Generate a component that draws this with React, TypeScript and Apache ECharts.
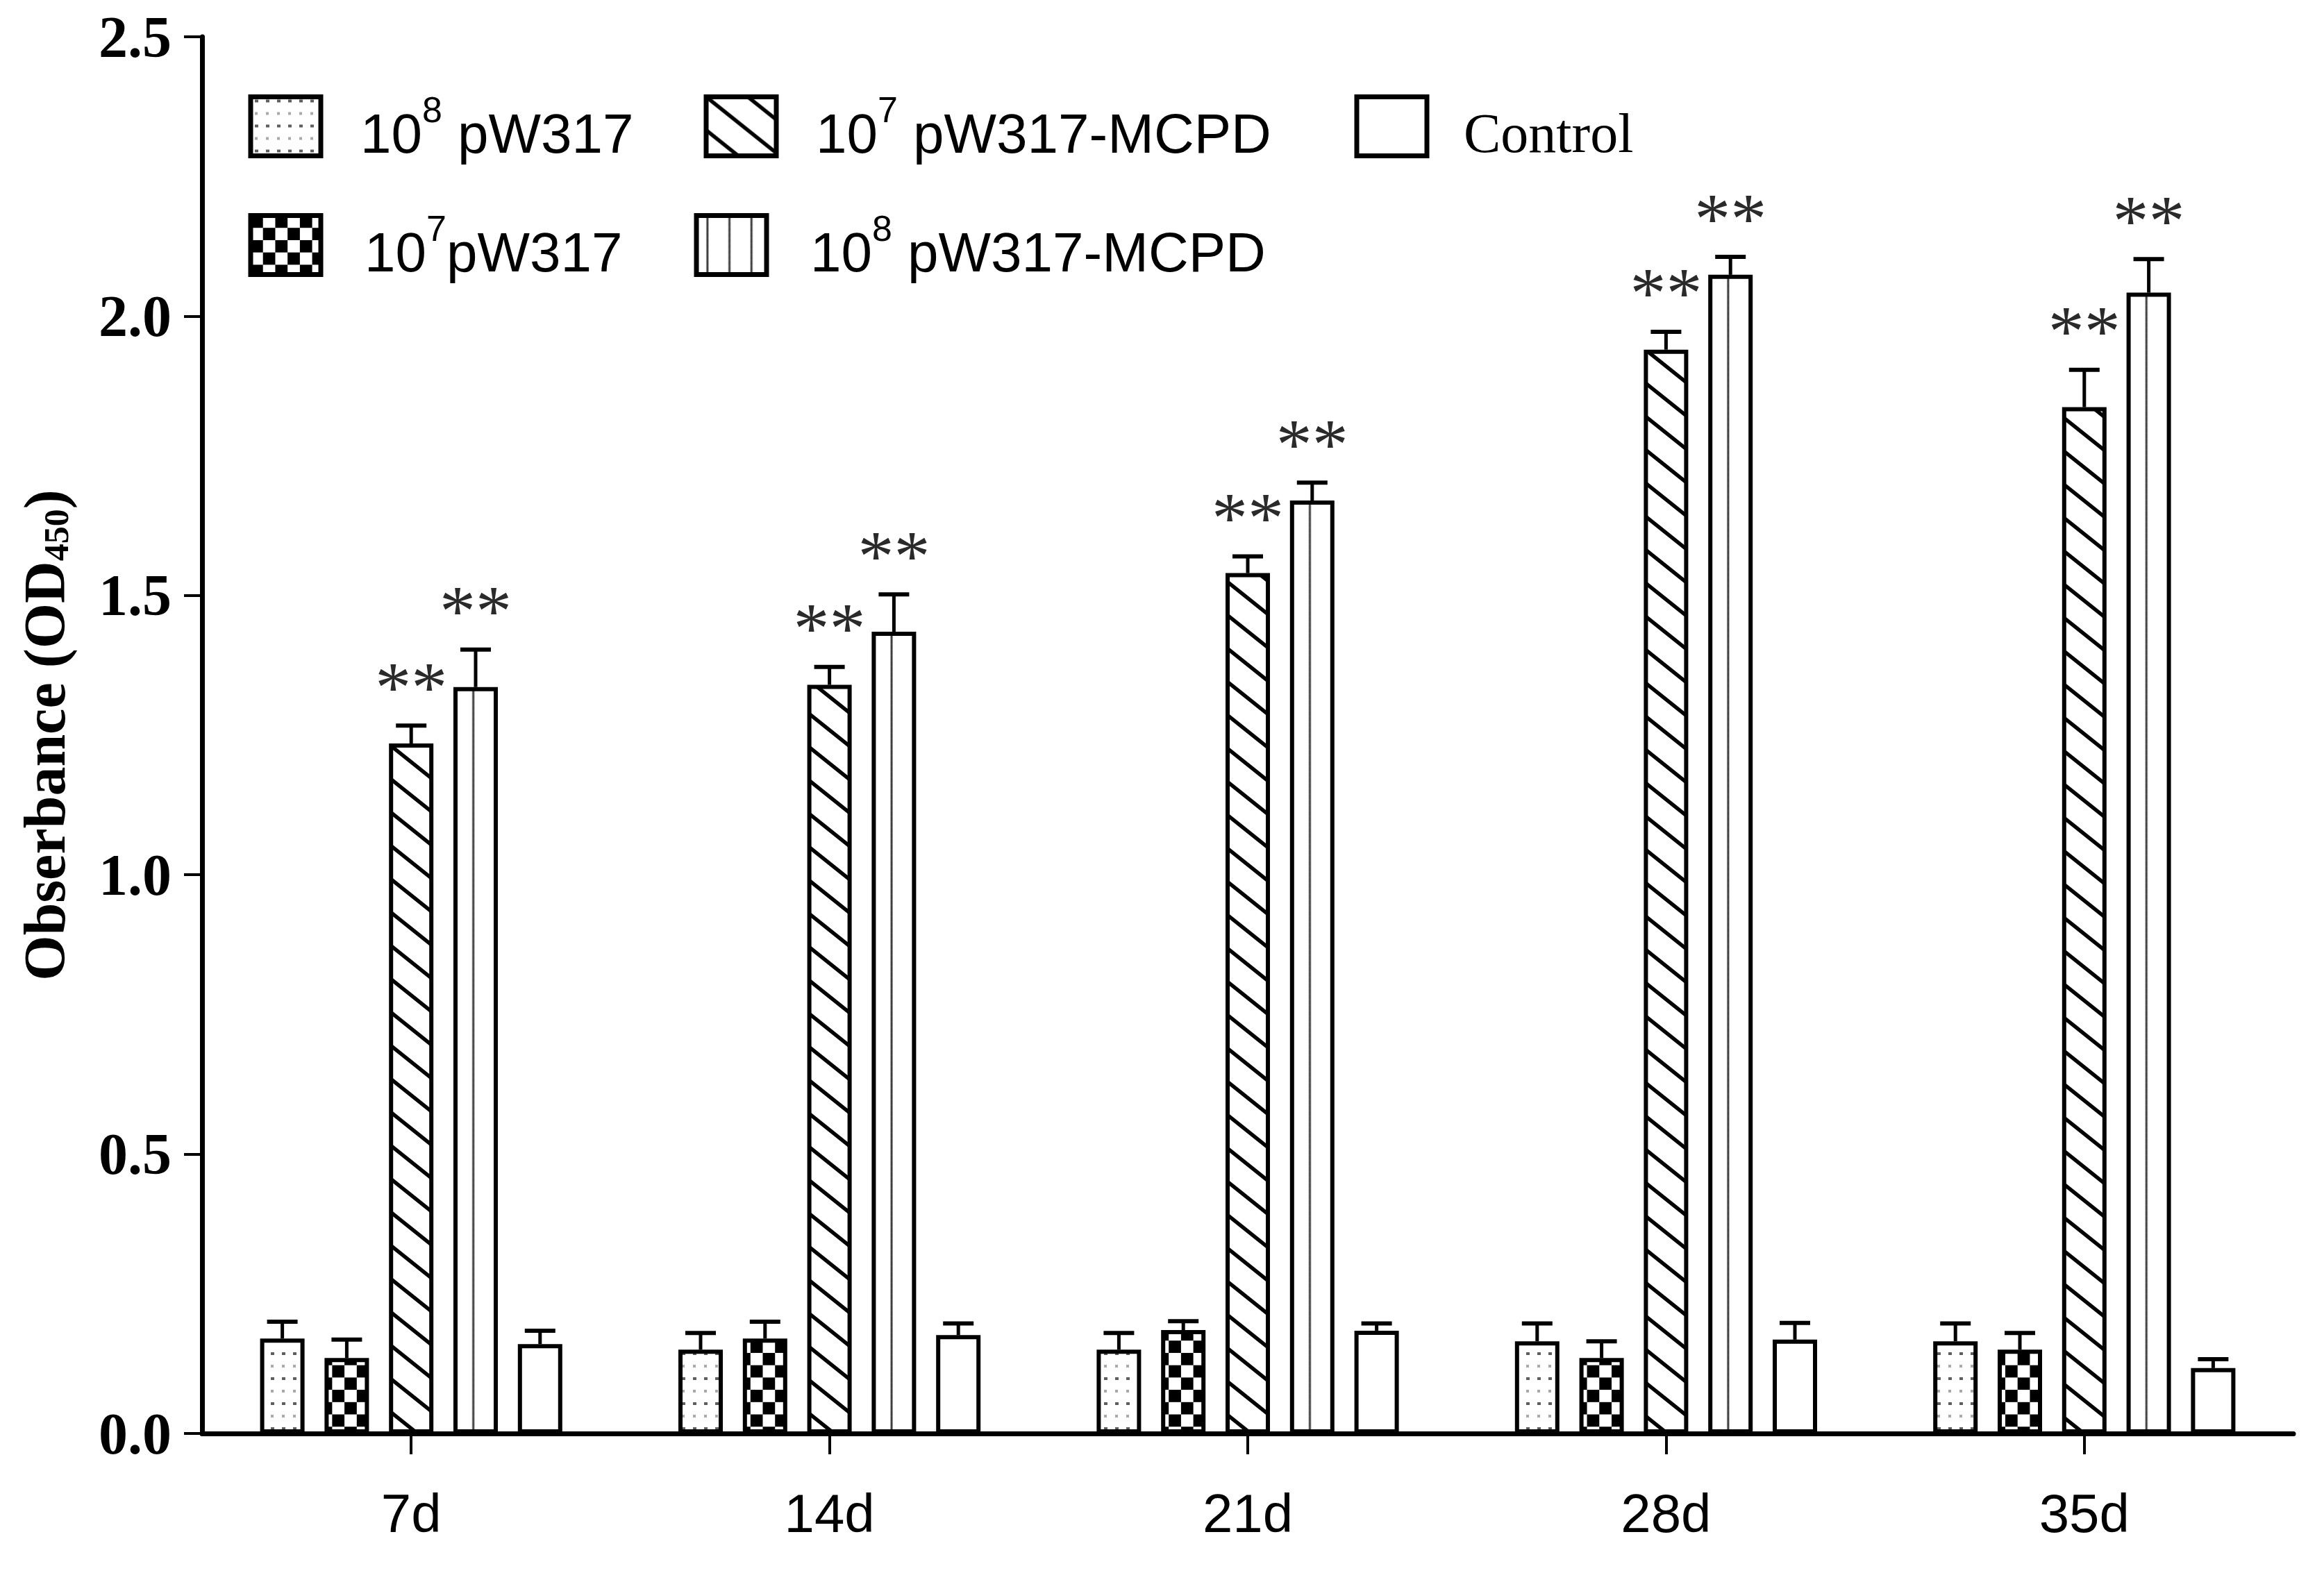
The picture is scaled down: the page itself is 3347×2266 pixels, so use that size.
import React, { useEffect, useRef } from "react";
import * as echarts from "echarts";

const categories = ["7d", "14d", "21d", "28d", "35d"];
const seriesNames = ["10^8 pW317", "10^7pW317", "10^7 pW317-MCPD", "10^8 pW317-MCPD", "Control"];

const mean108pW317 = [0.17, 0.15, 0.15, 0.165, 0.165];
const err108pW317 = [0.03, 0.03, 0.03, 0.032, 0.032];
const mean107pW317 = [0.135, 0.17, 0.185, 0.135, 0.15];
const err107pW317 = [0.033, 0.03, 0.016, 0.03, 0.03];
const mean107MCPD = [1.235, 1.34, 1.54, 1.94, 1.837];
const err107MCPD = [0.032, 0.032, 0.03, 0.032, 0.067];
const mean108MCPD = [1.336, 1.435, 1.67, 2.074, 2.042];
const err108MCPD = [0.067, 0.067, 0.032, 0.032, 0.06];
const meanControl = [0.16, 0.176, 0.184, 0.168, 0.117];
const errControl = [0.024, 0.021, 0.013, 0.03, 0.016];

const sig107MCPD = ["**", "**", "**", "**", "**"];
const sig108MCPD = ["**", "**", "**", "**", "**"];

const yTicks = [0, 0.5, 1.0, 1.5, 2.0, 2.5];

const W = 3347;
const H = 2266;
const GRID_LEFT = 291;
const GRID_RIGHT = 44;
const GRID_TOP = 53;
const GRID_BOTTOM = 201;
const BAR_W = 64;
const BAR_GAP = 0.45;
const STEP = BAR_W * (1 + BAR_GAP);
const CAT_W = (W - GRID_LEFT - GRID_RIGHT) / categories.length;

function makeCanvas(w: number, h: number, draw: (ctx: CanvasRenderingContext2D) => void) {
  const c = document.createElement("canvas");
  c.width = w;
  c.height = h;
  const ctx = c.getContext("2d") as CanvasRenderingContext2D;
  ctx.fillStyle = "#ffffff";
  ctx.fillRect(0, 0, w, h);
  draw(ctx);
  return c;
}

export default function App() {
  const ref = useRef<HTMLDivElement>(null);

  useEffect(() => {
    document.body.style.margin = "0";
    const chart = echarts.init(ref.current as HTMLDivElement, null, { renderer: "svg" });

    const means = [mean108pW317, mean107pW317, mean107MCPD, mean108MCPD, meanControl];
    const errs = [err108pW317, err107pW317, err107MCPD, err108MCPD, errControl];
    const sigs: string[][] = [[], [], sig107MCPD, sig108MCPD, []];

    const catCenter0 = GRID_LEFT + CAT_W / 2;

    // patterns
    const dotCanvas = makeCanvas(16, 36, (ctx) => {
      ctx.fillStyle = "#5e5e5e";
      ctx.fillRect(6, 4, 5, 4);
      ctx.fillStyle = "#a8a8a8";
      ctx.fillRect(6, 22, 4, 4);
    });
    const checkCanvas = makeCanvas(36, 36, (ctx) => {
      ctx.fillStyle = "#000000";
      ctx.fillRect(0, 0, 18, 18);
      ctx.fillRect(18, 18, 18, 18);
    });
    const diagCanvas = makeCanvas(60, 48, (ctx) => {
      ctx.strokeStyle = "#000000";
      ctx.lineWidth = 5.5;
      for (let n = -1; n <= 1; n++) {
        ctx.beginPath();
        ctx.moveTo(-10, 48 * n - 8);
        ctx.lineTo(70, 48 * n + 56);
        ctx.stroke();
      }
    });
    const vertCanvas = makeCanvas(32, 8, (ctx) => {
      ctx.fillStyle = "#3a3a3a";
      ctx.fillRect(14.5, 0, 3, 8);
    });

    const checkTile = CAT_W / 17;
    const vertTile = CAT_W / 19;
    const bar2Left = catCenter0 - STEP - BAR_W / 2;
    const bar4Center = catCenter0 + STEP;

    const fills: any[] = [
      { image: dotCanvas, repeat: "repeat", imageWidth: 16, imageHeight: 36 },
      { image: checkCanvas, repeat: "repeat", imageWidth: checkTile, imageHeight: checkTile, x: bar2Left },
      { image: diagCanvas, repeat: "repeat", imageWidth: 60, imageHeight: 48 },
      { image: vertCanvas, repeat: "repeat", imageWidth: vertTile, imageHeight: 8, x: bar4Center - 16 * (vertTile / 32) },
      "#ffffff",
    ];

    const barSeries = seriesNames.map((name, i) => ({
      type: "bar",
      name,
      data: means[i],
      barWidth: BAR_W,
      barGap: BAR_GAP * 100 + "%",
      silent: true,
      emphasis: { disabled: true },
      itemStyle: { color: fills[i], borderColor: "#000000", borderWidth: 6 },
      z: 2,
    }));

    const errSeries = seriesNames.map((name, i) => ({
      type: "custom",
      name: name + " error",
      silent: true,
      z: 3,
      encode: { x: 0, y: 1 },
      data: categories.map((c, j) => [j, means[i][j], errs[i][j]]),
      renderItem: (params: any, api: any) => {
        const j = api.value(0);
        const v = api.value(1);
        const e = api.value(2);
        const p0 = api.coord([j, v]);
        const p1 = api.coord([j, v + e]);
        const x = p0[0] + (i - 2) * STEP;
        const children: any[] = [
          { type: "line", shape: { x1: x, y1: p0[1], x2: x, y2: p1[1] }, style: { stroke: "#000", lineWidth: 5 } },
          { type: "line", shape: { x1: x - 22, y1: p1[1], x2: x + 22, y2: p1[1] }, style: { stroke: "#000", lineWidth: 6 } },
        ];
        const s = sigs[i][params.dataIndex];
        if (s) {
          children.push({
            type: "text",
            x,
            y: p1[1] - 56,
            style: {
              text: s,
              fontSize: 104,
              fontFamily: "Liberation Serif",
              fill: "#2a2a2a",
              align: "center",
              verticalAlign: "middle",
            },
          });
        }
        return { type: "group", children };
      },
    }));

    const supRich = {
      sup: { fontSize: 52, fontFamily: "Liberation Sans", color: "#000", verticalAlign: "top", lineHeight: 52 },
    };
    const legendItems = [
      { name: seriesNames[0], label: "10{sup|8} pW317", left: 357.5, cy: 182, pad: 52, font: "Liberation Sans" },
      { name: seriesNames[2], label: "10{sup|7} pW317-MCPD", left: 1013.5, cy: 182, pad: 52, font: "Liberation Sans" },
      { name: seriesNames[4], label: "Control", left: 1950.5, cy: 182, pad: 48, font: "Liberation Serif" },
      { name: seriesNames[1], label: "10{sup|7}pW317", left: 357.5, cy: 353, pad: 58, font: "Liberation Sans" },
      { name: seriesNames[3], label: "10{sup|8} pW317-MCPD", left: 999.5, cy: 353, pad: 58, font: "Liberation Sans" },
    ];
    const legends = legendItems.map((it) => ({
      show: true,
      data: [{ name: it.name, icon: "rect" }],
      left: it.left,
      top: it.cy - 70,
      orient: "horizontal",
      padding: 0,
      itemWidth: 101,
      itemHeight: 85,
      selectedMode: false,
      itemStyle: { borderColor: "#000000", borderWidth: 7 },
      formatter: () => it.label,
      textStyle: {
        fontFamily: it.font,
        fontSize: 80,
        lineHeight: 120,
        color: "#000",
        padding: [20, 0, 0, it.pad],
        rich: supRich,
      },
    }));

    const option: any = {
      animation: false,
      backgroundColor: "#ffffff",
      grid: {
        left: GRID_LEFT,
        right: GRID_RIGHT,
        top: GRID_TOP,
        bottom: GRID_BOTTOM,
        containLabel: false,
        outerBoundsMode: "none",
      },
      legend: legends,
      xAxis: {
        type: "category",
        data: categories,
        axisLine: { show: true, lineStyle: { color: "#000", width: 7 } },
        axisTick: { show: true, alignWithLabel: true, length: 30, lineStyle: { color: "#000", width: 4 } },
        axisLabel: { fontFamily: "Liberation Sans", fontSize: 78, color: "#000", margin: 76 },
        splitLine: { show: false },
      },
      yAxis: {
        type: "value",
        min: yTicks[0],
        max: yTicks[yTicks.length - 1],
        interval: 0.5,
        name: "Obserbance (OD{sub|450})",
        nameLocation: "middle",
        nameRotate: 90,
        nameGap: 185,
        nameTextStyle: {
          fontFamily: "Liberation Serif",
          fontWeight: "bold",
          fontSize: 84,
          color: "#000",
          rich: {
            sub: { fontFamily: "Liberation Serif", fontWeight: "bold", fontSize: 50, color: "#000", verticalAlign: "bottom" },
          },
        },
        axisLine: { show: true, lineStyle: { color: "#000", width: 7 } },
        axisTick: { show: true, inside: false, length: 26, lineStyle: { color: "#000", width: 4 } },
        axisLabel: {
          fontFamily: "Liberation Serif",
          fontWeight: "bold",
          fontSize: 84,
          color: "#000",
          margin: 44,
          formatter: (v: number) => v.toFixed(1),
        },
        splitLine: { show: false },
      },
      series: [...barSeries, ...errSeries],
    };

    chart.setOption(option);
    return () => chart.dispose();
  }, []);

  return <div ref={ref} style={{ width: W, height: H }} />;
}
